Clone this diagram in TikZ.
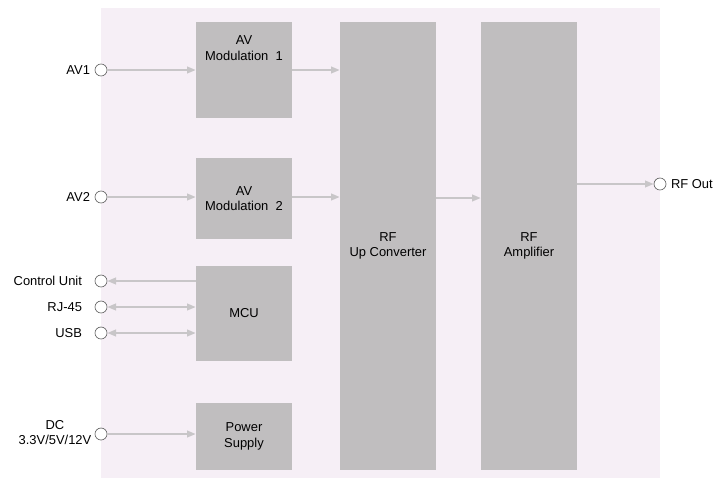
\documentclass[tikz,border=0pt]{standalone}
\usepackage{fontspec}
\setmainfont{Liberation Sans}
\usetikzlibrary{arrows.meta}
\definecolor{fond}{HTML}{F6EFF6}
\definecolor{bloc}{HTML}{C0BEBF}
\definecolor{fleche}{HTML}{C8C6C8}
\definecolor{bord}{HTML}{606060}
\tikzset{
  bloc/.style={fill=bloc, draw=none, inner sep=0pt, align=center},
  port/.style={circle, draw=bord, fill=white, line width=0.5pt, minimum size=9pt, inner sep=0pt},
  lien/.style={draw=fleche, line width=1.4pt, -{Triangle[length=6.5pt,width=5pt]}},
  double/.style={draw=fleche, line width=1.4pt, {Triangle[length=6.5pt,width=5pt]}-{Triangle[length=6.5pt,width=5pt]}}
}
\begin{document}
\begin{tikzpicture}[x=0.75pt, y=-0.75pt, font=\fontsize{9.7}{11.5}\selectfont]
        \useasboundingbox (0,0) rectangle (716,479);
        % Fond
        \fill[fond] (101,8) rectangle (660,478);

        % Blocs
        \node[bloc, minimum width=72pt, minimum height=72pt] (mod1) at (244,70) {};
        \node[align=center] (mod1txt) at (244,48) {AV\\Modulation\ \ 1};
        \node[bloc, minimum width=72pt, minimum height=60.75pt] (mod2) at (244,198.5) {AV\\Modulation\ \ 2};
        \node[bloc, minimum width=72pt, minimum height=71.25pt] (mcu) at (244,313.5) {MCU};
        \node[bloc, minimum width=72pt, minimum height=50.25pt] (alim) at (244,436.5) {Power\\Supply};
        \node[bloc, minimum width=72pt, minimum height=336pt] (upconv) at (388,246) {RF\\Up Converter};
        \node[bloc, minimum width=72pt, minimum height=336pt] (ampli) at (529,246) {RF\\Amplifier};

        % Ports
        \node[port] (av1) at (101,70) {};
        \node[port] (av2) at (101,197) {};
        \node[port] (ctrl) at (101,281) {};
        \node[port] (rj) at (101,307) {};
        \node[port] (usb) at (101,333) {};
        \node[port] (dc) at (101,434) {};
        \node[port] (rfout) at (660,184) {};

        % Textes des ports
        \node[anchor=east] at (av1.west) {AV1};
        \node[anchor=east] at (av2.west) {AV2};
        \node[anchor=east, xshift=-6pt] at (ctrl.west) {Control Unit};
        \node[anchor=east, xshift=-6pt] at (rj.west) {RJ-45};
        \node[anchor=east, xshift=-6pt] at (usb.west) {USB};
        \node[align=center, anchor=east, xshift=1pt, yshift=1pt] at (dc.west) {DC\\3.3V/5V/12V};
        \node[anchor=west] at (rfout.east) {RF Out};

        % Liaisons
        \draw[lien] (av1) -- (av1 -| mod1.west);
        \draw[lien] (av2) -- (av2 -| mod2.west);
        \draw[lien] (mod1.east |- av1) -- (av1 -| upconv.west);
        \draw[lien] (mod2.east |- av2) -- (av2 -| upconv.west);
        \draw[lien] (upconv.east |- 0,198) -- (ampli.west |- 0,198);
        \draw[lien] (ampli.east |- rfout) -- (rfout);
        \draw[lien] (mcu.west |- ctrl) -- (ctrl);
        \draw[double] (rj) -- (rj -| mcu.west);
        \draw[double] (usb) -- (usb -| mcu.west);
        \draw[lien] (dc) -- (dc -| alim.west);
\end{tikzpicture}
\end{document}
